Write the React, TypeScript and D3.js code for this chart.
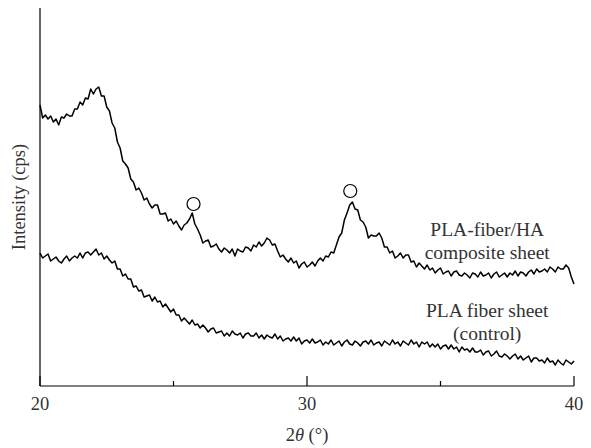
import React from "react";
import * as d3 from "d3";

// 2θ sampled every 0.1° from 20 to 40
const twoThetaStart = 20;
const twoThetaStep = 0.1;

// PLA-fiber/HA composite sheet intensity (a.u.)
const compositeIntensity = [
  281, 268, 271, 267, 270, 264, 267, 261, 269, 268,
  272, 270, 270, 277, 277, 284, 281, 288, 287, 297,
  292, 297, 299, 290, 290, 279, 275, 263, 258, 244,
  238, 225, 222, 218, 207, 204, 196, 198, 193, 186,
  188, 182, 178, 181, 181, 172, 172, 173, 165, 167,
  162, 165, 160, 156, 161, 163, 167, 173, 162, 157,
  151, 143, 145, 146, 139, 140, 142, 137, 134, 138,
  136, 133, 137, 130, 137, 135, 134, 139, 138, 135,
  141, 139, 144, 140, 143, 148, 146, 141, 142, 135,
  129, 131, 127, 124, 128, 123, 125, 118, 122, 124,
  119, 121, 124, 120, 125, 128, 125, 130, 129, 134,
  133, 141, 149, 153, 166, 173, 181, 184, 177, 176,
  166, 164, 159, 148, 151, 150, 150, 153, 148, 139,
  139, 133, 135, 128, 130, 133, 128, 131, 131, 124,
  125, 119, 123, 120, 117, 121, 116, 118, 113, 116,
  118, 112, 114, 115, 110, 114, 115, 111, 110, 113,
  111, 108, 113, 112, 109, 114, 110, 111, 113, 108,
  112, 114, 109, 111, 113, 109, 113, 111, 115, 110,
  114, 113, 110, 114, 116, 112, 117, 114, 115, 117,
  114, 119, 117, 114, 119, 117, 117, 121, 118, 109,
  102,
];

// PLA fiber sheet (control) intensity (a.u.)
const controlIntensity = [
  133, 128, 130, 132, 125, 127, 129, 125, 123, 127,
  130, 125, 128, 130, 128, 133, 128, 133, 134, 131,
  134, 137, 131, 133, 127, 130, 126, 123, 125, 117,
  117, 110, 112, 107, 107, 99, 100, 95, 96, 89,
  90, 91, 85, 89, 84, 85, 79, 82, 78, 74,
  77, 71, 71, 65, 68, 65, 62, 66, 61, 62,
  58, 61, 58, 54, 57, 58, 53, 54, 55, 50,
  53, 50, 55, 52, 51, 53, 48, 52, 53, 50,
  50, 53, 48, 51, 47, 51, 49, 48, 52, 47,
  50, 45, 47, 48, 45, 49, 45, 48, 42, 45,
  46, 43, 47, 43, 44, 46, 41, 44, 42, 46,
  41, 43, 45, 40, 44, 46, 42, 41, 45, 43,
  40, 44, 45, 42, 46, 41, 43, 44, 40, 45,
  43, 41, 46, 42, 44, 40, 45, 43, 41, 46,
  42, 44, 39, 44, 42, 44, 39, 42, 39, 42,
  37, 40, 41, 37, 41, 37, 39, 34, 39, 36,
  37, 34, 38, 34, 34, 36, 31, 34, 35, 30,
  32, 35, 30, 29, 32, 30, 27, 30, 32, 27,
  30, 26, 28, 30, 24, 28, 28, 25, 26, 23,
  28, 24, 25, 21, 26, 23, 21, 26, 24, 22,
  25,
];

// HA peak markers (○)
const markerTheta = [25.75, 31.62];
const markerIntensity = [182, 195];

const xTicks = [20, 25, 30, 35, 40];
const xTickLabels = ["20", "30", "40"];

const seriesLabels = [
  { lines: ["PLA-fiber/HA", "composite sheet"], theta: 36.75, level: 150 },
  { lines: ["PLA fiber sheet", "(control)"], theta: 36.75, level: 69 },
];

const W = 591;
const H = 448;
const M = { left: 40, right: 17, top: 8, bottom: 62 };
const FONT = "Liberation Serif, DejaVu Serif, Times New Roman, serif";
const TEXT = "#333";

export default function App() {
  const x = d3.scaleLinear().domain([20, 40]).range([M.left, W - M.right]);
  const y = d3.scaleLinear().domain([0, 378]).range([H - M.bottom, M.top]);
  const line = d3
    .line<number>()
    .x((_, i) => x(twoThetaStart + i * twoThetaStep))
    .y((d) => y(d));
  const y0 = y(0);
  const lineH = 22.5;
  const ts = { fontFamily: FONT };

  return (
    <svg
      width={W}
      height={H}
      style={{ position: "absolute", left: 0, top: 0, background: "#fff" }}
    >
      {/* axes */}
      <line x1={x(20)} x2={x(20)} y1={y(378)} y2={y0} stroke="#000" strokeWidth={1.2} />
      <line x1={x(20)} x2={x(40)} y1={y0} y2={y0} stroke="#000" strokeWidth={1.2} />
      {xTicks.map((t) => (
        <line
          key={t}
          x1={x(t)}
          x2={x(t)}
          y1={y0}
          y2={y0 - (t % 10 === 0 ? 10 : 5)}
          stroke="#000"
          strokeWidth={1.2}
        />
      ))}
      {xTickLabels.map((t) => (
        <text key={t} x={x(+t)} y={y0 + 24} textAnchor="middle" fontSize={18.5} fill={TEXT} style={ts}>
          {t}
        </text>
      ))}
      <text x={x(30)} y={y0 + 55} textAnchor="middle" fontSize={18.5} fill={TEXT} style={ts}>
        2<tspan fontStyle="italic">θ</tspan> (°)
      </text>
      <text
        transform={`translate(${25},${(y(378) + y0) / 2}) rotate(-90)`}
        textAnchor="middle"
        fontSize={18.5}
        fill={TEXT}
        style={ts}
      >
        Intensity (cps)
      </text>

      {/* curves */}
      <path d={line(compositeIntensity) || ""} fill="none" stroke="#000" strokeWidth={1.5} strokeLinejoin="round" />
      <path d={line(controlIntensity) || ""} fill="none" stroke="#000" strokeWidth={1.5} strokeLinejoin="round" />

      {markerTheta.map((t, i) => (
        <circle
          key={t}
          cx={x(t)}
          cy={y(markerIntensity[i])}
          r={6.5}
          fill="none"
          stroke="#000"
          strokeWidth={1.2}
        />
      ))}

      {seriesLabels.map((s, i) => (
        <text
          key={i}
          x={x(s.theta)}
          y={y(s.level)}
          textAnchor="middle"
          fontSize={19.5}
          fill={TEXT}
          style={ts}
        >
          {s.lines.map((l, j) => (
            <tspan key={j} x={x(s.theta)} dy={j === 0 ? 0 : lineH}>
              {l}
            </tspan>
          ))}
        </text>
      ))}
    </svg>
  );
}
